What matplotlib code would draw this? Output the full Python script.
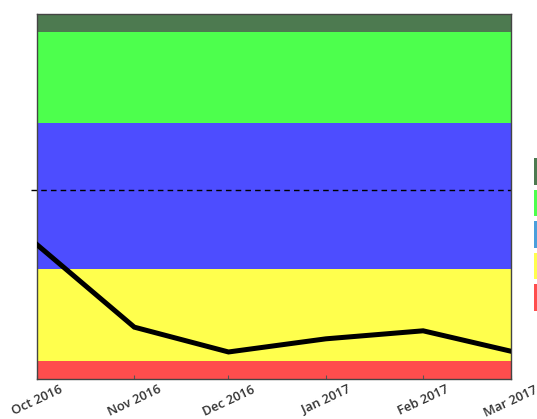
import matplotlib

matplotlib.use("Agg")

import matplotlib.dates as mdates
import matplotlib.pyplot as plt
import pandas as pd
from matplotlib.patches import Patch

# monthly values
MONTHS = ["2016-10-01", "2016-11-01", "2016-12-01", "2017-01-01", "2017-02-01", "2017-03-01"]
SCORES = [36.8, 14.2, 7.4, 11.0, 13.2, 7.6]

# band edges (bottom to top) and the reference level
BAND_EDGES = [0, 5, 30, 70, 95, 100]
BAND_COLORS = ["#ff4d4d", "#ffff4d", "#4d4dff", "#4dff4d", "#4d7a50"]
LEGEND_LABELS = ["Excellent", "Good", "Fair", "Poor", "Bad"]
LEGEND_COLORS = ["#4d7a50", "#4dff4d", "#4a9fdc", "#ffff4d", "#ff4d4d"]
REFERENCE_LEVEL = 51.8


def main() -> None:
    dates = pd.to_datetime(MONTHS)

    fig = plt.figure(figsize=(5.37, 4.19), dpi=100)
    ax = fig.add_axes([0.0689, 0.0955, 0.8827, 0.8711])

    for low, high, color in zip(BAND_EDGES[:-1], BAND_EDGES[1:], BAND_COLORS):
        ax.axhspan(low, high, color=color, lw=0, zorder=0)

    ax.axhline(REFERENCE_LEVEL, xmin=-0.012, xmax=1, color="black", lw=1,
               ls=(0, (4, 3)), clip_on=False, zorder=2)
    ax.plot(dates, SCORES, color="black", lw=3.6, solid_joinstyle="miter", zorder=3)

    ax.set_xlim(dates[0], dates[-1])
    ax.set_ylim(BAND_EDGES[0], BAND_EDGES[-1])
    ax.xaxis.set_major_locator(mdates.MonthLocator())
    ax.xaxis.set_major_formatter(mdates.DateFormatter("%b %Y"))
    ax.tick_params(axis="x", direction="in", length=3, color="#555555", pad=3)
    ax.set_yticks([])
    for label in ax.get_xticklabels():
        label.set_rotation(25)
        label.set_ha("center")
        label.set_fontsize(9.3)
        label.set_family("Open Sans")
        label.set_fontweight("semibold")
        label.set_color("#333333")
    for spine in ax.spines.values():
        spine.set_color("#444444")
        spine.set_linewidth(1)

    handles = [Patch(facecolor=c, edgecolor="none") for c in LEGEND_COLORS]
    fig.legend(handles, LEGEND_LABELS, loc="upper left", bbox_to_anchor=(0.9944, 0.623),
               frameon=False, handlelength=1.0, handleheight=2.9, labelspacing=0.4,
               handletextpad=0.5, borderaxespad=0, borderpad=0, fontsize=9)

    fig.savefig("out.png", dpi=100)
    plt.close(fig)


if __name__ == "__main__":
    main()
